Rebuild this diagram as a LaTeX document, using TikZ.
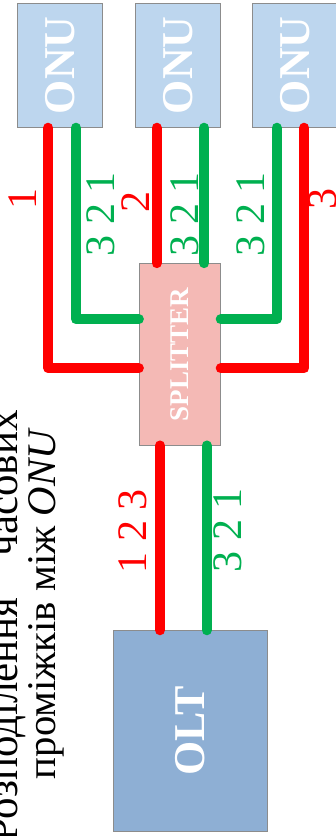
\documentclass[tikz,border=0pt]{standalone}
\usepackage{fontspec}
\setmainfont{Liberation Serif}
\usetikzlibrary{calc}
\definecolor{onufill}{RGB}{189,214,238}
\definecolor{splitfill}{RGB}{244,185,181}
\definecolor{oltfill}{RGB}{142,175,212}
\definecolor{boxgray}{RGB}{140,140,140}
\definecolor{fibred}{RGB}{255,0,0}
\definecolor{fibgreen}{RGB}{0,176,80}
\tikzset{
  unitbox/.style={draw=boxgray, line width=0.8pt, inner sep=0pt, text=white,
    font=\bfseries\fontsize{44}{48}\selectfont},
  splitbox/.style={unitbox, fill=splitfill, font=\bfseries\fontsize{27}{30}\selectfont},
  fibre/.style={line width=10pt, line cap=round, line join=round},
  redfibre/.style={fibre, draw=fibred},
  greenfibre/.style={fibre, draw=fibgreen},
  lbl/.style={rotate=90, inner sep=0pt, font=\fontsize{42}{46}\selectfont},
  redlbl/.style={lbl, text=fibred},
  greenlbl/.style={lbl, text=fibgreen},
  titleline/.style={rotate=90, anchor=base east, inner sep=0pt, font=\fontsize{40.7}{44}\selectfont}
}
\begin{document}
\begin{tikzpicture}[x=1pt, y=-1pt]
\clip (0,0) rectangle (336,836);
\useasboundingbox (0,0) rectangle (336,836);

% title, set vertically along the left edge (justified first line)
\node[titleline, font=\fontsize{43}{46}\selectfont] (title1) at (17,410) {Розподілення\hspace{41pt}часових};
\node[titleline] (title2) at (55,428) {проміжків між \textit{ONU}};

% subscriber units
\node[unitbox, fill=onufill, minimum width=85pt, minimum height=124pt] (onu1) at (59.8,65.3) {\rotatebox{90}{ONU}};
\node[unitbox, fill=onufill, minimum width=85pt, minimum height=124pt] (onu2) at (177.7,65.3) {\rotatebox{90}{ONU}};
\node[unitbox, fill=onufill, minimum width=85pt, minimum height=124pt] (onu3) at (294.7,65.3) {\rotatebox{90}{ONU}};

% splitter and line terminal
\node[splitbox, minimum width=81pt, minimum height=181.5pt] (split) at (179.8,354.3) {\rotatebox{90}{SPLITTER}};
\node[unitbox, fill=oltfill, minimum width=154.4pt, minimum height=200.3pt] (olt) at (190.5,730.8) {\rotatebox{90}{OLT}};

% bends of the fibres
\coordinate (b1r) at (48.3,368.3);
\coordinate (b1g) at (76,319.3);
\coordinate (b3g) at (276.7,319.3);
\coordinate (b3r) at (304.3,368.3);
\coordinate (x2r) at (156.7,0);
\coordinate (x2g) at (204.3,0);
\coordinate (xor) at (160,0);
\coordinate (xog) at (206.7,0);

% fibres
\draw[redfibre]   (onu1.south -| b1r) -- (b1r) -- (split.west |- b1r);
\draw[greenfibre] (onu1.south -| b1g) -- (b1g) -- (split.west |- b1g);
\draw[redfibre]   (onu2.south -| x2r) -- (split.north -| x2r);
\draw[greenfibre] (onu2.south -| x2g) -- (split.north -| x2g);
\draw[greenfibre] (onu3.south -| b3g) -- (b3g) -- (split.east |- b3g);
\draw[redfibre]   (onu3.south -| b3r) -- (b3r) -- (split.east |- b3r);
\draw[redfibre]   (split.south -| xor) -- (olt.north -| xor);
\draw[greenfibre] (split.south -| xog) -- (olt.north -| xog);

% time-slot labels
\node[redlbl] (s1) at (23,199) {1};
\node[greenlbl] (g1) at (100.5,214) {3 2 1};
\node[redlbl] (s2) at (136,201.7) {2};
\node[greenlbl] (g2) at (185,214) {3 2 1};
\node[greenlbl] (g3) at (251,214) {3 2 1};
\node[redlbl] (s3) at (323,199) {3};
\node[redlbl] (sd) at (133,531) {1 2 3};
\node[greenlbl] (gd) at (227.5,530) {3 2 1};
\end{tikzpicture}
\end{document}
